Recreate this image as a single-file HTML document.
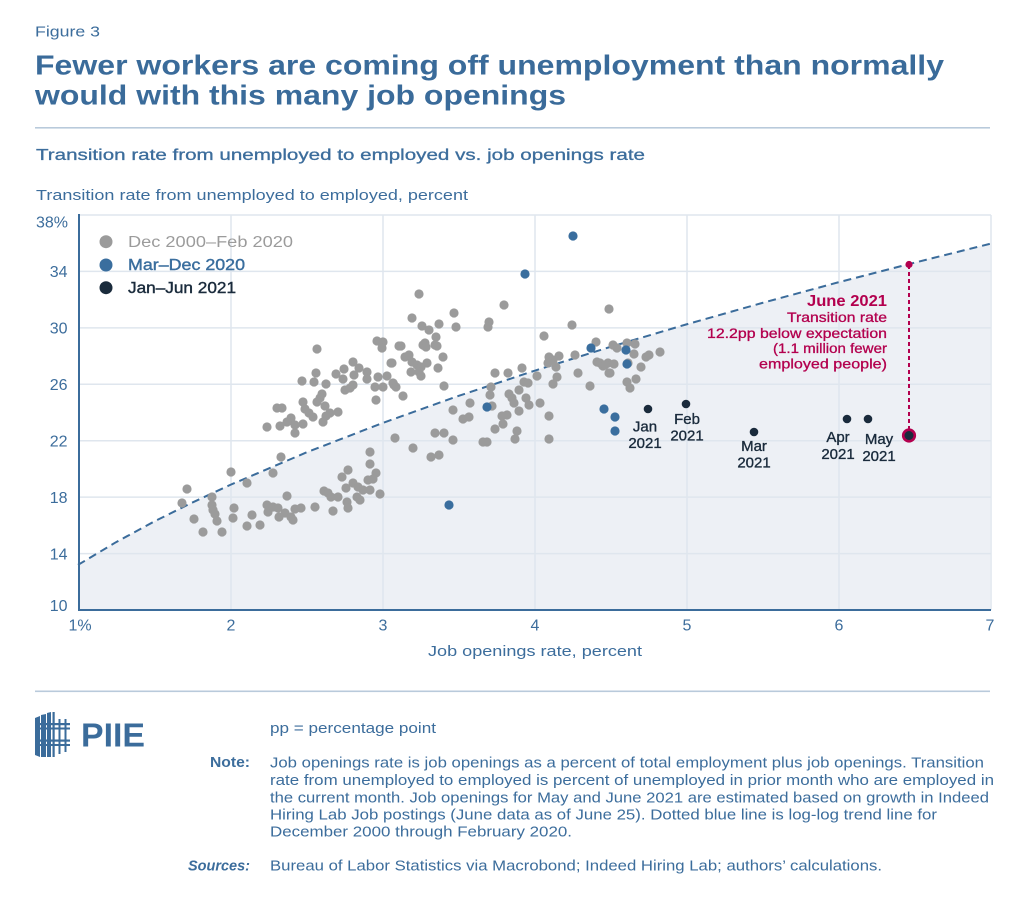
<!DOCTYPE html>
<html><head><meta charset="utf-8"><style>
html,body{margin:0;padding:0;background:#fff;}
svg{display:block;}
text{font-family:"Liberation Sans",Arial,sans-serif;}
</style></head><body>
<svg width="1024" height="902" viewBox="0 0 1024 902" xmlns="http://www.w3.org/2000/svg">
<rect width="1024" height="902" fill="#fff"/>
<!-- header -->
<text x="35" y="36.5" font-size="15" fill="#3c6d9c" textLength="65" lengthAdjust="spacingAndGlyphs">Figure 3</text>
<text x="35" y="74.5" font-size="28" font-weight="bold" fill="#3a6b9a" textLength="909" lengthAdjust="spacingAndGlyphs">Fewer workers are coming off unemployment than normally</text>
<text x="35" y="104.5" font-size="28" font-weight="bold" fill="#3a6b9a" textLength="531" lengthAdjust="spacingAndGlyphs">would with this many job openings</text>
<rect x="35" y="127" width="955" height="1.6" fill="#b9cadb"/>
<text x="36" y="160" font-size="16" fill="#3c6d9c" stroke="#3c6d9c" stroke-width="0.3" textLength="609" lengthAdjust="spacingAndGlyphs">Transition rate from unemployed to employed vs. job openings rate</text>
<text x="36" y="200" font-size="15" fill="#3c6d9c" textLength="432" lengthAdjust="spacingAndGlyphs">Transition rate from unemployed to employed, percent</text>

<!-- plot fill -->
<polygon fill="#edf0f5" points="78,564.9 116,542.2 154,521.6 192,502.7 230,485 306,452.6 382,423.2 458,396.1 534,370.9 610,347 686,324.5 762,303 838,282.4 914,262.8 990,243.8 990,610 78,610"/>
<!-- grid -->
<g stroke="#dfe6ee" stroke-width="1.5">
<line x1="78" y1="215" x2="991" y2="215"/>
<line x1="78" y1="271.4" x2="991" y2="271.4"/>
<line x1="78" y1="327.9" x2="991" y2="327.9"/>
<line x1="78" y1="384.3" x2="991" y2="384.3"/>
<line x1="78" y1="440.7" x2="991" y2="440.7"/>
<line x1="78" y1="497.1" x2="991" y2="497.1"/>
<line x1="78" y1="553.6" x2="991" y2="553.6"/>
<line x1="231" y1="215" x2="231" y2="610"/>
<line x1="383" y1="215" x2="383" y2="610"/>
<line x1="535" y1="215" x2="535" y2="610"/>
<line x1="687" y1="215" x2="687" y2="610"/>
<line x1="839" y1="215" x2="839" y2="610"/>
<line x1="991" y1="215" x2="991" y2="610"/>
</g>
<!-- trend line -->
<polyline fill="none" stroke="#3b6c9b" stroke-width="2" stroke-dasharray="8,5" points="78,564.9 116,542.2 154,521.6 192,502.7 230,485 306,452.6 382,423.2 458,396.1 534,370.9 610,347 686,324.5 762,303 838,282.4 914,262.8 990,243.8"/>
<!-- axes -->
<line x1="79" y1="214" x2="79" y2="611" stroke="#3b6c9b" stroke-width="2"/>
<line x1="78" y1="610" x2="991" y2="610" stroke="#3b6c9b" stroke-width="2"/>

<!-- y tick labels -->
<g font-size="16" fill="#3c6d9c" text-anchor="end">
<text x="68" y="227.5">38%</text>
<text x="67.5" y="277">34</text>
<text x="67.5" y="333.5">30</text>
<text x="67.5" y="390">26</text>
<text x="67.5" y="446.5">22</text>
<text x="67.5" y="503">18</text>
<text x="67.5" y="559.5">14</text>
<text x="67.5" y="611">10</text>
</g>
<!-- x tick labels -->
<g font-size="16" fill="#3c6d9c" text-anchor="middle">
<text x="80" y="630.5">1%</text>
<text x="231" y="630.5">2</text>
<text x="383" y="630.5">3</text>
<text x="535" y="630.5">4</text>
<text x="687" y="630.5">5</text>
<text x="839" y="630.5">6</text>
<text x="990" y="630.5">7</text>
</g>
<text x="428" y="656" font-size="15" fill="#3c6d9c" textLength="214" lengthAdjust="spacingAndGlyphs">Job openings rate, percent</text>

<!-- legend -->
<circle cx="106" cy="241.7" r="6.5" fill="#9b9b9b"/>
<circle cx="106" cy="265" r="6.5" fill="#3a6e9e"/>
<circle cx="106" cy="287.7" r="6.5" fill="#1a2b3c"/>
<text x="128" y="247" font-size="15.5" fill="#9b9b9b" textLength="165" lengthAdjust="spacingAndGlyphs">Dec 2000–Feb 2020</text>
<text x="128" y="270" font-size="15.5" fill="#3a6e9e" stroke="#3a6e9e" stroke-width="0.4" textLength="117" lengthAdjust="spacingAndGlyphs">Mar–Dec 2020</text>
<text x="128" y="293" font-size="15.5" fill="#1a2b3c" stroke="#1a2b3c" stroke-width="0.4" textLength="108" lengthAdjust="spacingAndGlyphs">Jan–Jun 2021</text>

<!-- gray points -->
<g fill="#9b9b9b">
<circle cx="187" cy="489" r="4.6"/><circle cx="182" cy="503" r="4.6"/><circle cx="194" cy="519" r="4.6"/><circle cx="203" cy="532" r="4.6"/><circle cx="212" cy="497" r="4.6"/><circle cx="212" cy="505" r="4.6"/><circle cx="213" cy="510" r="4.6"/><circle cx="215" cy="514" r="4.6"/><circle cx="217" cy="521" r="4.6"/><circle cx="222" cy="532" r="4.6"/><circle cx="231" cy="472" r="4.6"/><circle cx="247" cy="483" r="4.6"/><circle cx="234" cy="508" r="4.6"/><circle cx="233" cy="518" r="4.6"/><circle cx="247" cy="526" r="4.6"/><circle cx="252" cy="515" r="4.6"/><circle cx="260" cy="525" r="4.6"/><circle cx="273" cy="473" r="4.6"/><circle cx="281" cy="457" r="4.6"/><circle cx="287" cy="496" r="4.6"/><circle cx="267" cy="505" r="4.6"/><circle cx="268" cy="512" r="4.6"/><circle cx="273" cy="507" r="4.6"/><circle cx="278" cy="508" r="4.6"/><circle cx="279" cy="517" r="4.6"/><circle cx="285" cy="513" r="4.6"/><circle cx="291" cy="517" r="4.6"/><circle cx="293" cy="520" r="4.6"/><circle cx="295" cy="509" r="4.6"/><circle cx="301" cy="508" r="4.6"/><circle cx="315" cy="507" r="4.6"/><circle cx="324" cy="491" r="4.6"/><circle cx="328" cy="493" r="4.6"/><circle cx="331" cy="497" r="4.6"/><circle cx="333" cy="511" r="4.6"/><circle cx="338" cy="497" r="4.6"/><circle cx="342" cy="477" r="4.6"/><circle cx="348" cy="470" r="4.6"/><circle cx="376" cy="473" r="4.6"/><circle cx="373" cy="479" r="4.6"/><circle cx="368" cy="480" r="4.6"/><circle cx="353" cy="483" r="4.6"/><circle cx="346" cy="488" r="4.6"/><circle cx="358" cy="487" r="4.6"/><circle cx="363" cy="490" r="4.6"/><circle cx="357" cy="497" r="4.6"/><circle cx="370" cy="490" r="4.6"/><circle cx="360" cy="500" r="4.6"/><circle cx="380" cy="494" r="4.6"/><circle cx="347" cy="502" r="4.6"/><circle cx="348" cy="508" r="4.6"/><circle cx="370" cy="452" r="4.6"/><circle cx="370" cy="464" r="4.6"/><circle cx="395" cy="438" r="4.6"/>
<circle cx="317" cy="349" r="4.6"/><circle cx="377" cy="341" r="4.6"/><circle cx="383" cy="342" r="4.6"/><circle cx="382" cy="348" r="4.6"/><circle cx="353" cy="362" r="4.6"/><circle cx="344" cy="369" r="4.6"/><circle cx="359" cy="368" r="4.6"/><circle cx="367" cy="372" r="4.6"/><circle cx="336" cy="374" r="4.6"/><circle cx="343" cy="379" r="4.6"/><circle cx="354" cy="375" r="4.6"/><circle cx="316" cy="373" r="4.6"/><circle cx="314" cy="382" r="4.6"/><circle cx="302" cy="381" r="4.6"/><circle cx="326" cy="384" r="4.6"/><circle cx="367" cy="379" r="4.6"/><circle cx="378" cy="377" r="4.6"/><circle cx="387" cy="376" r="4.6"/><circle cx="391" cy="363" r="4.6"/><circle cx="399" cy="346" r="4.6"/><circle cx="375" cy="387" r="4.6"/><circle cx="383" cy="387" r="4.6"/><circle cx="394" cy="385" r="4.6"/><circle cx="353" cy="385" r="4.6"/><circle cx="345" cy="390" r="4.6"/><circle cx="350" cy="388" r="4.6"/><circle cx="376" cy="400" r="4.6"/><circle cx="303" cy="402" r="4.6"/><circle cx="322" cy="394" r="4.6"/><circle cx="320" cy="398" r="4.6"/><circle cx="317" cy="402" r="4.6"/><circle cx="325" cy="406" r="4.6"/><circle cx="277" cy="408" r="4.6"/><circle cx="282" cy="408" r="4.6"/><circle cx="305" cy="409" r="4.6"/><circle cx="309" cy="413" r="4.6"/><circle cx="313" cy="417" r="4.6"/><circle cx="326" cy="416" r="4.6"/><circle cx="330" cy="413" r="4.6"/><circle cx="323" cy="422" r="4.6"/><circle cx="338" cy="412" r="4.6"/><circle cx="291" cy="418" r="4.6"/><circle cx="287" cy="422" r="4.6"/><circle cx="280" cy="426" r="4.6"/><circle cx="295" cy="425" r="4.6"/><circle cx="303" cy="424" r="4.6"/><circle cx="267" cy="427" r="4.6"/><circle cx="295" cy="433" r="4.6"/>
<circle cx="419" cy="294" r="4.6"/><circle cx="412" cy="318" r="4.6"/><circle cx="422" cy="326" r="4.6"/><circle cx="429" cy="330" r="4.6"/><circle cx="439" cy="324" r="4.6"/><circle cx="454" cy="313" r="4.6"/><circle cx="456" cy="327" r="4.6"/><circle cx="504" cy="305" r="4.6"/><circle cx="489" cy="322" r="4.6"/><circle cx="488" cy="327" r="4.6"/><circle cx="436" cy="337" r="4.6"/><circle cx="425" cy="343" r="4.6"/><circle cx="423" cy="345" r="4.6"/><circle cx="426" cy="347" r="4.6"/><circle cx="435" cy="345" r="4.6"/><circle cx="437" cy="346" r="4.6"/><circle cx="401" cy="346" r="4.6"/><circle cx="443" cy="357" r="4.6"/><circle cx="405" cy="357" r="4.6"/><circle cx="409" cy="355" r="4.6"/><circle cx="412" cy="362" r="4.6"/><circle cx="417" cy="365" r="4.6"/><circle cx="421" cy="367" r="4.6"/><circle cx="427" cy="363" r="4.6"/><circle cx="411" cy="372" r="4.6"/><circle cx="419" cy="372" r="4.6"/><circle cx="421" cy="376" r="4.6"/><circle cx="438" cy="368" r="4.6"/><circle cx="392" cy="363" r="4.6"/><circle cx="393" cy="383" r="4.6"/><circle cx="396" cy="387" r="4.6"/><circle cx="403" cy="396" r="4.6"/><circle cx="444" cy="386" r="4.6"/><circle cx="572" cy="325" r="4.6"/><circle cx="609" cy="309" r="4.6"/><circle cx="544" cy="336" r="4.6"/><circle cx="549" cy="357" r="4.6"/><circle cx="553" cy="360" r="4.6"/><circle cx="559" cy="356" r="4.6"/><circle cx="548" cy="363" r="4.6"/><circle cx="556" cy="367" r="4.6"/><circle cx="575" cy="355" r="4.6"/><circle cx="522" cy="368" r="4.6"/><circle cx="508" cy="373" r="4.6"/><circle cx="495" cy="373" r="4.6"/><circle cx="537" cy="376" r="4.6"/><circle cx="557" cy="377" r="4.6"/><circle cx="553" cy="384" r="4.6"/><circle cx="524" cy="382" r="4.6"/><circle cx="528" cy="383" r="4.6"/><circle cx="519" cy="390" r="4.6"/><circle cx="491" cy="387" r="4.6"/><circle cx="490" cy="395" r="4.6"/><circle cx="509" cy="394" r="4.6"/><circle cx="512" cy="398" r="4.6"/><circle cx="514" cy="403" r="4.6"/><circle cx="526" cy="398" r="4.6"/><circle cx="529" cy="405" r="4.6"/><circle cx="540" cy="403" r="4.6"/><circle cx="578" cy="373" r="4.6"/><circle cx="590" cy="386" r="4.6"/><circle cx="596" cy="342" r="4.6"/><circle cx="597" cy="362" r="4.6"/><circle cx="603" cy="366" r="4.6"/><circle cx="608" cy="363" r="4.6"/><circle cx="614" cy="364" r="4.6"/><circle cx="610" cy="373" r="4.6"/><circle cx="613" cy="345" r="4.6"/><circle cx="617" cy="348" r="4.6"/><circle cx="627" cy="343" r="4.6"/><circle cx="635" cy="344" r="4.6"/><circle cx="634" cy="354" r="4.6"/><circle cx="641" cy="367" r="4.6"/><circle cx="646" cy="357" r="4.6"/><circle cx="649" cy="355" r="4.6"/><circle cx="660" cy="352" r="4.6"/><circle cx="627" cy="382" r="4.6"/><circle cx="630" cy="388" r="4.6"/><circle cx="636" cy="379" r="4.6"/><circle cx="470" cy="403" r="4.6"/><circle cx="453" cy="410" r="4.6"/><circle cx="463" cy="419" r="4.6"/><circle cx="469" cy="417" r="4.6"/><circle cx="492" cy="406" r="4.6"/><circle cx="519" cy="411" r="4.6"/><circle cx="502" cy="416" r="4.6"/><circle cx="507" cy="415" r="4.6"/><circle cx="503" cy="424" r="4.6"/><circle cx="495" cy="429" r="4.6"/><circle cx="517" cy="431" r="4.6"/><circle cx="515" cy="439" r="4.6"/><circle cx="487" cy="442" r="4.6"/><circle cx="483" cy="442" r="4.6"/><circle cx="549" cy="416" r="4.6"/><circle cx="549" cy="439" r="4.6"/><circle cx="435" cy="433" r="4.6"/><circle cx="444" cy="433" r="4.6"/><circle cx="453" cy="440" r="4.6"/><circle cx="413" cy="448" r="4.6"/><circle cx="431" cy="457" r="4.6"/><circle cx="439" cy="455" r="4.6"/><circle cx="600" cy="363" r="4.6"/><circle cx="605" cy="365" r="4.6"/><circle cx="609" cy="373" r="4.6"/><circle cx="628" cy="363" r="4.6"/>
</g>
<!-- blue points -->
<g fill="#3a6e9e">
<circle cx="573" cy="236" r="4.6"/><circle cx="525" cy="274" r="4.6"/><circle cx="487" cy="407" r="4.6"/><circle cx="449" cy="505" r="4.6"/><circle cx="591" cy="348" r="4.6"/><circle cx="626" cy="350" r="4.6"/><circle cx="627" cy="364" r="4.6"/><circle cx="604" cy="409" r="4.6"/><circle cx="615" cy="417" r="4.6"/><circle cx="615" cy="431" r="4.6"/>
</g>
<!-- dark points -->
<g fill="#1a2b3c">
<circle cx="648" cy="409" r="4.3"/><circle cx="686" cy="404" r="4.3"/><circle cx="754" cy="432" r="4.3"/><circle cx="847" cy="419" r="4.3"/><circle cx="868" cy="419" r="4.3"/>
</g>
<!-- June annotation -->
<line x1="909" y1="265" x2="909" y2="429" stroke="#b3004e" stroke-width="2" stroke-dasharray="4,3"/>
<circle cx="909" cy="264.5" r="3.6" fill="#b3004e"/>
<circle cx="909" cy="435.5" r="5.8" fill="#1a2b3c" stroke="#b3004e" stroke-width="2.6"/>
<g fill="#b3004e" text-anchor="end">
<text x="887" y="306" font-size="16" font-weight="bold" textLength="80" lengthAdjust="spacingAndGlyphs">June 2021</text>
<text x="887" y="322" font-size="14" stroke="#b3004e" stroke-width="0.3" textLength="100" lengthAdjust="spacingAndGlyphs">Transition rate</text>
<text x="887" y="338" font-size="14" stroke="#b3004e" stroke-width="0.3" textLength="180" lengthAdjust="spacingAndGlyphs">12.2pp below expectation</text>
<text x="887" y="353" font-size="14" stroke="#b3004e" stroke-width="0.3" textLength="114" lengthAdjust="spacingAndGlyphs">(1.1 million fewer</text>
<text x="887" y="368.5" font-size="14" stroke="#b3004e" stroke-width="0.3" textLength="128" lengthAdjust="spacingAndGlyphs">employed people)</text>
</g>
<!-- month labels -->
<g fill="#1a2b3c" font-size="15" text-anchor="middle" stroke="#1a2b3c" stroke-width="0.35">
<text x="645" y="431.5">Jan</text><text x="645" y="448">2021</text>
<text x="687" y="424">Feb</text><text x="687" y="440.5">2021</text>
<text x="754" y="451">Mar</text><text x="754" y="467.5">2021</text>
<text x="838" y="442">Apr</text><text x="838" y="459">2021</text>
<text x="879" y="444">May</text><text x="879" y="461">2021</text>
</g>

<!-- footer -->
<rect x="35" y="690.5" width="955" height="1.6" fill="#b9cadb"/>
<!-- logo -->
<g fill="#3b6c9b">
<polygon points="35,718 40,716 40,757 35,755"/>
<polygon points="41,715 46,714 46,757 41,757"/>
<polygon points="47,713 51,712 51,757 47,757"/>
<rect x="52.5" y="712" width="2.2" height="45"/>
<rect x="58.5" y="719" width="2" height="35"/>
<rect x="64.5" y="719" width="2" height="33"/>
<rect x="35" y="723" width="35" height="2.2"/>
<rect x="35" y="727.5" width="35" height="2"/>
<rect x="35" y="739.5" width="35" height="2.2"/>
<rect x="35" y="744" width="35" height="2"/>
</g>
<text x="81" y="746.5" font-size="33" font-weight="bold" fill="#3b6c9b" textLength="64" lengthAdjust="spacingAndGlyphs">PIIE</text>
<g fill="#3c6d9c" font-size="14.5">
<text x="270" y="733" textLength="166" lengthAdjust="spacingAndGlyphs">pp = percentage point</text>
<text x="250" y="767" text-anchor="end" font-weight="bold" textLength="40" lengthAdjust="spacingAndGlyphs">Note:</text>
<text x="270" y="767.5" textLength="714" lengthAdjust="spacingAndGlyphs">Job openings rate is job openings as a percent of total employment plus job openings. Transition</text>
<text x="270" y="785" textLength="724" lengthAdjust="spacingAndGlyphs">rate from unemployed to employed is percent of unemployed in prior month who are employed in</text>
<text x="270" y="802.5" textLength="719" lengthAdjust="spacingAndGlyphs">the current month. Job openings for May and June 2021 are estimated based on growth in Indeed</text>
<text x="270" y="819.5" textLength="667" lengthAdjust="spacingAndGlyphs">Hiring Lab Job postings (June data as of June 25). Dotted blue line is log-log trend line for</text>
<text x="270" y="836.5" textLength="302" lengthAdjust="spacingAndGlyphs">December 2000 through February 2020.</text>
<text x="250" y="870.5" text-anchor="end" font-weight="bold" font-style="italic" textLength="62" lengthAdjust="spacingAndGlyphs">Sources:</text>
<text x="270" y="870.5" textLength="612" lengthAdjust="spacingAndGlyphs">Bureau of Labor Statistics via Macrobond; Indeed Hiring Lab; authors’ calculations.</text>
</g>
</svg>
</body></html>
